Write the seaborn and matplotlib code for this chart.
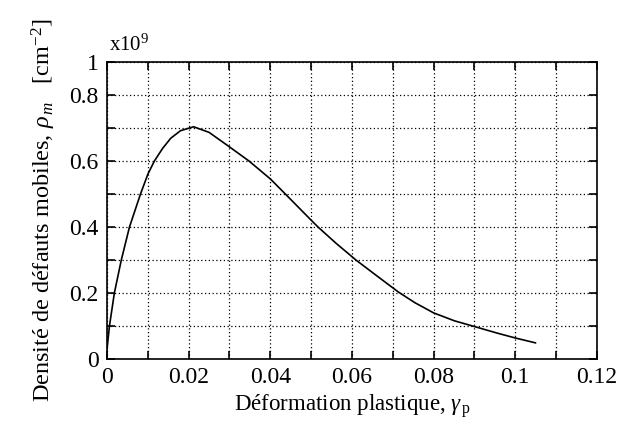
import numpy as np
import pandas as pd
import matplotlib
matplotlib.use("Agg")
import matplotlib.pyplot as plt
import seaborn as sns

# Data (x: plastic strain, y: density in units of 1e9 cm^-2)
strain = [0.0, 0.0006, 0.0018, 0.0035, 0.0055, 0.0082, 0.0100, 0.0116, 0.0136,
          0.0156, 0.0180, 0.0212, 0.0250, 0.0300, 0.0348, 0.0400, 0.0437, 0.0500,
          0.0517, 0.0561, 0.0610, 0.0658, 0.0714, 0.0754, 0.0800, 0.0851,
          0.0899, 0.0955, 0.1000, 0.1050]
density = [0.03, 0.10, 0.20, 0.30, 0.40, 0.50, 0.56, 0.60, 0.638,
           0.669, 0.692, 0.704, 0.687, 0.643, 0.600, 0.546, 0.500, 0.421,
           0.400, 0.351, 0.300, 0.255, 0.203, 0.171, 0.140, 0.116,
           0.099, 0.079, 0.064, 0.049]

x_ticks = [0.00, 0.01, 0.02, 0.03, 0.04, 0.05, 0.06, 0.07, 0.08, 0.09, 0.10, 0.11, 0.12]
x_labels = ["0", "", "0.02", "", "0.04", "", "0.06", "", "0.08", "", "0.1", "", "0.12"]
y_ticks = [0.0, 0.1, 0.2, 0.3, 0.4, 0.5, 0.6, 0.7, 0.8, 0.9]
y_labels = ["0", "", "0.2", "", "0.4", "", "0.6", "", "0.8", "1"]

df = pd.DataFrame({"strain": strain, "density": density})

sns.set_theme(style="white")
plt.rcParams["font.family"] = ["Liberation Serif", "DejaVu Serif"]
plt.rcParams["mathtext.fontset"] = "custom"
plt.rcParams["mathtext.rm"] = "Liberation Serif"
plt.rcParams["mathtext.it"] = "Liberation Serif:italic"

fig = plt.figure(figsize=(6.35, 4.28), dpi=100)
ax = fig.add_axes([0.1685, 0.161, 0.7715, 0.694])

sns.lineplot(data=df, x="strain", y="density", ax=ax, color="black",
             linewidth=1.2, sort=False)

ax.set_xlim(0, 0.12)
ax.set_ylim(0, 0.9)
ax.set_xticks(x_ticks)
ax.set_xticklabels(x_labels)
ax.set_yticks(y_ticks)
ax.set_yticklabels(y_labels)

ax.grid(True, color="black", linestyle=(0, (1, 2)), linewidth=0.9)
for s in ax.spines.values():
    s.set_color("black")
    s.set_linewidth(1.2)
    s.set_visible(True)

ax.tick_params(axis="both", direction="in", length=6, width=1.2, color="black",
               top=True, right=True, bottom=True, left=True,
               labelsize=17, labelcolor="black", pad=6)

ax.set_xlabel("Déformation plastique, $\\gamma_{\\,\\mathrm{p}}$", fontsize=16.5,
              color="black", labelpad=3)
ax.set_ylabel("Densité de défauts mobiles, $\\rho_{\\,m}$   [cm$^{-2}$]", fontsize=17.5,
              color="black", labelpad=8)

ax.text(0.005, 1.02, "x10$^{9}$", transform=ax.transAxes, fontsize=15,
        ha="left", va="bottom", color="black")

fig.savefig("out.png", dpi=100, facecolor="white")
